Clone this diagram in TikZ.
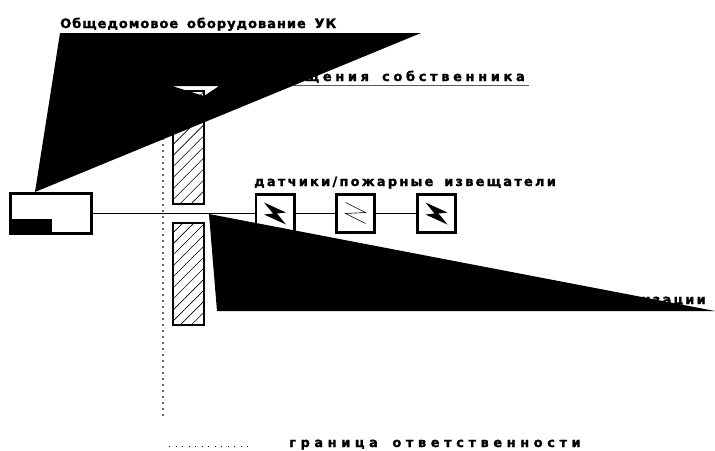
\documentclass[tikz,border=0pt]{standalone}
\usepackage{fontspec}
\setmainfont{DejaVu Sans}
\newfontfamily\heavyfont[LetterSpace=17,WordSpace=1.6,FakeBold=1.5]{DejaVu Sans Bold}
\newfontfamily\engfont[LetterSpace=7.5,WordSpace=1.6,FakeBold=1.5]{DejaVu Sans Bold}
\newfontfamily\mittelfont[LetterSpace=28,WordSpace=1.6,FakeBold=1.5]{DejaVu Sans Bold}
\newfontfamily\weitfont[LetterSpace=35,WordSpace=1.6,FakeBold=1.5]{DejaVu Sans Bold}
\usetikzlibrary{patterns.meta,positioning}

\begin{document}
\begin{tikzpicture}[x=1pt, y=-1pt, >=latex,
			schild/.style={draw, line width=2.6pt, minimum size=38.4pt, inner sep=0pt, fill=white},
			wand/.style={draw, line width=2pt, pattern={Lines[angle=45,distance=7.8pt,line width=.6pt]}},
			keil/.style={fill=black, draw=none},
			etikett/.style={font=\fontsize{13}{15}\heavyfont, inner sep=0pt, anchor=base west}]
			% Bildbereich
			\useasboundingbox (0,0) rectangle (715,450);
			% Grenze
			\coordinate (grenzeO) at (163,90);
			\coordinate (grenzeU) at (163,416);
			\draw[line width=1.5pt, gray!80!black, dash pattern=on 1.5pt off 4.5pt] (grenzeO) -- (grenzeU);
			% Waende
			\draw[wand] (173,91) rectangle (204,204);
			\draw[wand] (173,223) rectangle (204,325);
			% Linie unter dem Text
			\coordinate (linieC) at (290,85);
			\coordinate (linieD) at (529,85);
			\draw[gray!70!black, line width=.8pt] (linieC) -- (linieD);
			% Kasten links
			\node[draw, line width=2.6pt, minimum width=81pt, minimum height=39.5pt, inner sep=0pt] (kasten) at (51,213.5) {};
			\fill[black] (11,219) rectangle (52,234);
			% Sensoren
			\node[schild] (s1) at (275,213.5) {};
			\node[schild] (s2) at (355.5,213.5) {};
			\node[schild] (s3) at (436.5,213.5) {};
			\draw[line width=.9pt] (kasten) -- (s1);
			\draw[line width=.9pt] (s1) -- (s2);
			\draw[line width=.9pt] (s2) -- (s3);
			\foreach \n in {s1,s3} \fill[black] ([shift={(-11,-11)}]\n.center) -- ([shift={(11,-1)}]\n.center) -- ([shift={(2,0)}]\n.center) -- ([shift={(11,11)}]\n.center) -- ([shift={(-11,1)}]\n.center) -- ([shift={(-2,0)}]\n.center) -- cycle;
			\draw[line width=.6pt] ([shift={(-10,-11)}]s2.center) -- ([shift={(10,-1)}]s2.center) -- ([shift={(-10,0)}]s2.center) -- ([shift={(10,10)}]s2.center);
			% Texte
			\node[etikett, font=\fontsize{13}{15}\engfont] (t1) at (60,28) {Общедомовое оборудование УК};
			\node[etikett, anchor=base east, font=\fontsize{13}{15}\mittelfont] (t2) at (525,81) {Оборудование помещения собственника};
			\node[etikett] (t3) at (254,186) {датчики/пожарные извещатели};
			\node[etikett, anchor=base east] (t4) at (706,304) {сигнализации};
			\node[etikett, font=\fontsize{13}{15}\weitfont] (t5) at (289,447) {граница ответственности};
			% Keile
			\fill[keil, even odd rule] (60,33) -- (421,33) -- (35,192) -- cycle (172,86) -- (219,86) -- (204,96) -- cycle;
			\fill[keil] (209,214) -- (715,311) -- (217,311) -- cycle;
			% Legende
			\coordinate (legA) at (169,446);
			\coordinate (legB) at (253,446);
			\draw[line width=1pt, dash pattern=on 1.2pt off 5.3pt] (legA) -- (legB);
		\end{tikzpicture}
\end{document}
